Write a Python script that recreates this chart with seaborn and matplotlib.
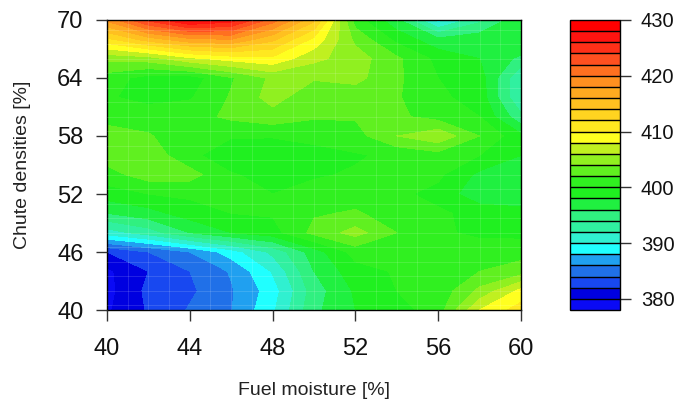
import numpy as np
import matplotlib
matplotlib.use("Agg")
import matplotlib.pyplot as plt
from matplotlib.colors import ListedColormap, BoundaryNorm
from matplotlib.ticker import MultipleLocator, NullLocator
import seaborn as sns

# grid of the response surface
fuel_moisture = [40, 42, 44, 46, 48, 50, 52, 54, 56, 58, 60]
chute_density = [40, 42, 44, 46, 48, 50, 52, 54, 56, 58, 60, 62, 64, 66, 68, 70]

# one row per chute density, bottom (40) to top (70)
response = [
    [379.7, 382.2, 384.2, 385.9, 389.6, 395.5, 398.0, 399.2, 401.0, 408.0, 411.0],
    [379.3, 382.5, 383.6, 385.8, 389.0, 395.0, 398.3, 400.0, 400.6, 404.5, 408.5],
    [379.6, 382.0, 384.0, 386.2, 390.2, 396.0, 399.2, 400.2, 400.4, 402.0, 403.0],
    [382.0, 384.0, 386.0, 389.0, 392.5, 397.0, 400.8, 400.4, 400.2, 401.2, 401.2],
    [391.0, 393.0, 396.0, 398.0, 399.2, 402.6, 404.8, 402.0, 400.4, 399.5, 399.4],
    [396.0, 397.2, 399.0, 400.0, 400.2, 401.8, 402.2, 401.2, 400.3, 399.4, 399.0],
    [399.0, 400.0, 400.4, 400.2, 400.0, 400.6, 401.2, 400.4, 399.4, 396.5, 396.0],
    [401.2, 403.0, 402.8, 400.2, 399.2, 399.8, 400.2, 400.2, 400.4, 397.5, 396.5],
    [403.0, 403.2, 400.6, 398.5, 398.2, 399.0, 399.8, 400.4, 401.2, 400.0, 398.0],
    [403.0, 402.2, 400.6, 400.2, 400.2, 400.8, 401.2, 404.0, 405.5, 402.0, 398.5],
    [401.2, 401.0, 401.2, 402.4, 403.2, 402.2, 402.2, 402.4, 401.2, 400.0, 394.5],
    [400.2, 399.4, 399.8, 402.2, 404.8, 402.6, 402.8, 402.2, 400.4, 399.2, 392.0],
    [401.0, 399.2, 399.0, 401.8, 404.4, 404.2, 404.6, 402.4, 400.0, 399.0, 392.0],
    [404.5, 405.0, 407.5, 408.8, 409.5, 406.5, 405.0, 402.4, 399.4, 398.0, 395.5],
    [411.5, 415.0, 417.5, 418.0, 414.5, 409.5, 403.5, 399.4, 396.5, 397.2, 398.0],
    [418.5, 424.5, 428.5, 427.0, 421.0, 414.5, 401.0, 396.5, 389.0, 393.5, 397.5],
]

levels = np.arange(378, 431, 2)
bar_ticks = [380, 390, 400, 410, 420, 430]

# one colour per band, from 378-380 up to 428-430
band_colors = [
    "#0a0af5", "#0000e0", "#1848f0", "#2070e8", "#20a0f0", "#20ffff",
    "#30f0d0", "#30f0a0", "#30f080", "#20f040", "#20f020", "#30f020",
    "#60f020", "#90f020", "#c0f020", "#ffff20", "#ffe820", "#ffd420",
    "#ffc020", "#ffaa20", "#ff9020", "#ff7020", "#ff5020", "#ff3018",
    "#ff1410", "#ff0000",
]

sns.set_theme(style="ticks")
plt.rcParams["font.family"] = ["Liberation Sans", "DejaVu Sans"]

fig = plt.figure(figsize=(6.78, 4.07), dpi=100)
ax = fig.add_axes([0.1578, 0.2383, 0.6106, 0.7126])
cax = fig.add_axes([0.8407, 0.2383, 0.0738, 0.7126])

cmap = ListedColormap(band_colors)
norm = BoundaryNorm(levels, cmap.N)
cf = ax.contourf(fuel_moisture, chute_density, response,
                 levels=levels, cmap=cmap, norm=norm)

# faint white lines like the cell seams in the original render
ax.xaxis.set_minor_locator(MultipleLocator(1))
ax.yaxis.set_minor_locator(MultipleLocator(1.5))
ax.grid(which="minor", color="white", alpha=0.16, lw=0.6)
ax.set_axisbelow(False)

ax.set_xlim(40, 60)
ax.set_ylim(40, 70)
ax.set_xticks(range(40, 61, 4))
ax.set_yticks(range(40, 71, 6))
ax.tick_params(which="major", direction="out", length=8, width=1, color="#333333",
               labelsize=17, labelcolor="#111111", bottom=True, left=True)
ax.tick_params(axis="x", pad=12)
ax.tick_params(axis="y", pad=9)
ax.tick_params(which="minor", length=0)
for s in ax.spines.values():
    s.set_color("black")
    s.set_linewidth(1)

ax.set_xlabel("Fuel moisture [%]", fontsize=14, color="#222222", va="center")
ax.xaxis.set_label_coords(0.5, -0.279)
ax.set_ylabel("Chute densities [%]", fontsize=14, color="#222222", va="center")
ax.yaxis.set_label_coords(-0.205, 0.5)

cb = fig.colorbar(cf, cax=cax, ticks=bar_ticks, drawedges=True)
cb.outline.set_edgecolor("black")
cb.outline.set_linewidth(1)
cb.dividers.set_color("black")
cb.dividers.set_linewidth(1)
cax.yaxis.set_minor_locator(NullLocator())
cax.tick_params(direction="out", length=8, width=1, color="#333333",
                labelsize=14.5, labelcolor="#111111", pad=7, right=True)

plt.savefig("out.png", dpi=100)
